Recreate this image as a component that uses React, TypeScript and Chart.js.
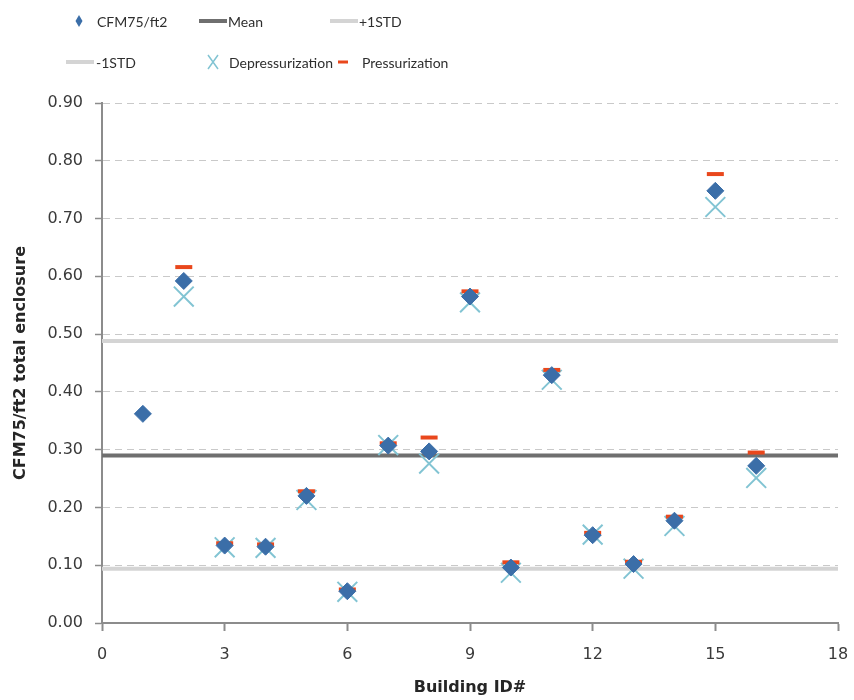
import React, { useEffect, useRef } from 'react';
import { Chart, registerables } from 'chart.js';

Chart.register(...registerables);

// ---- data ----
const buildingIds = [1, 2, 3, 4, 5, 6, 7, 8, 9, 10, 11, 12, 13, 14, 15, 16];
const cfmValues = [0.362, 0.592, 0.134, 0.132, 0.22, 0.055, 0.307, 0.297, 0.565, 0.096, 0.429, 0.152, 0.102, 0.177, 0.748, 0.272];
const depressValues = [null, 0.565, 0.131, 0.13, 0.213, 0.054, 0.308, 0.276, 0.555, 0.087, 0.421, 0.153, 0.094, 0.168, 0.72, 0.251];
const pressValues = [null, 0.616, 0.138, 0.136, 0.228, 0.058, 0.311, 0.321, 0.574, 0.105, 0.438, 0.156, 0.106, 0.184, 0.777, 0.295];
const lineXRange = [0, 18];
const meanValue = 0.29;
const plusStdValue = 0.488;
const minusStdValue = 0.094;
const xTickValues = [0, 3, 6, 9, 12, 15, 18];
const yTickValues = [0, 0.1, 0.2, 0.3, 0.4, 0.5, 0.6, 0.7, 0.8, 0.9];

const seriesLabels = ['CFM75/ft2', 'Mean', '+1STD', '-1STD', 'Depressurization', 'Pressurization'];

const toPoints = (vals: (number | null)[]) =>
  buildingIds
    .map((id, i) => ({ x: id, y: vals[i] }))
    .filter((p) => p.y !== null) as { x: number; y: number }[];

const hLine = (v: number) => lineXRange.map((x) => ({ x, y: v }));

const COLORS = {
  cfm: '#3b6ea8',
  mean: '#6f6f6f',
  std: '#d4d4d4',
  depress: '#82c4d3',
  press: '#e9471c',
};

// legend layout (position of each legend entry)
const legendLayout = [
  { index: 0, kind: 'diamond', mx: 79, tx: 97, y: 21 },
  { index: 1, kind: 'line', mx: 213, tx: 228, y: 21 },
  { index: 2, kind: 'line', mx: 344, tx: 359, y: 21 },
  { index: 3, kind: 'line', mx: 80, tx: 96, y: 62 },
  { index: 4, kind: 'cross', mx: 213, tx: 229, y: 62 },
  { index: 5, kind: 'dash', mx: 343, tx: 362, y: 62 },
];

const gridLegendPlugin = {
  id: 'gridLegend',
  afterDraw(chart: any) {
    const ctx: CanvasRenderingContext2D = chart.ctx;
    ctx.save();
    ctx.font = '14px Lato';
    ctx.textBaseline = 'middle';
    ctx.textAlign = 'left';
    for (const item of legendLayout) {
      const ds: any = chart.data.datasets[item.index];
      const { mx, y } = item;
      ctx.lineCap = 'butt';
      if (item.kind === 'line') {
        ctx.strokeStyle = ds.borderColor;
        ctx.lineWidth = ds.borderWidth;
        ctx.beginPath();
        ctx.moveTo(mx - 14, y);
        ctx.lineTo(mx + 14, y);
        ctx.stroke();
      } else if (item.kind === 'diamond') {
        ctx.fillStyle = ds.backgroundColor;
        ctx.beginPath();
        ctx.moveTo(mx, y - 6);
        ctx.lineTo(mx + 3.5, y);
        ctx.lineTo(mx, y + 6);
        ctx.lineTo(mx - 3.5, y);
        ctx.closePath();
        ctx.fill();
      } else if (item.kind === 'cross') {
        ctx.strokeStyle = ds.borderColor;
        ctx.lineWidth = 1.5;
        ctx.beginPath();
        ctx.moveTo(mx - 5, y - 7);
        ctx.lineTo(mx + 5, y + 7);
        ctx.moveTo(mx + 5, y - 7);
        ctx.lineTo(mx - 5, y + 7);
        ctx.stroke();
      } else if (item.kind === 'dash') {
        ctx.strokeStyle = ds.borderColor;
        ctx.lineWidth = 3;
        ctx.beginPath();
        ctx.moveTo(mx - 5, y);
        ctx.lineTo(mx + 5, y);
        ctx.stroke();
      }
      ctx.fillStyle = '#2e2e2e';
      ctx.fillText(ds.label, item.tx, y + 1);
    }
    ctx.restore();
  },
};

export default function App() {
  const canvasRef = useRef<HTMLCanvasElement | null>(null);

  useEffect(() => {
    document.body.style.margin = '0';
    const canvas = canvasRef.current;
    if (!canvas) return;

    const chart = new Chart(canvas, {
      type: 'scatter',
      data: {
        datasets: [
          {
            label: seriesLabels[0],
            data: toPoints(cfmValues),
            pointStyle: 'rectRot',
            pointRadius: 8.5,
            pointHoverRadius: 8.5,
            backgroundColor: COLORS.cfm,
            borderColor: COLORS.cfm,
            borderWidth: 1,
            order: 0,
          },
          {
            label: seriesLabels[1],
            data: hLine(meanValue),
            showLine: true,
            pointRadius: 0,
            borderColor: COLORS.mean,
            backgroundColor: COLORS.mean,
            borderWidth: 4,
            order: 5,
          },
          {
            label: seriesLabels[2],
            data: hLine(plusStdValue),
            showLine: true,
            pointRadius: 0,
            borderColor: COLORS.std,
            backgroundColor: COLORS.std,
            borderWidth: 4,
            order: 6,
          },
          {
            label: seriesLabels[3],
            data: hLine(minusStdValue),
            showLine: true,
            pointRadius: 0,
            borderColor: COLORS.std,
            backgroundColor: COLORS.std,
            borderWidth: 4,
            order: 7,
          },
          {
            label: seriesLabels[4],
            data: toPoints(depressValues),
            pointStyle: 'crossRot',
            pointRadius: 14,
            pointHoverRadius: 14,
            borderColor: COLORS.depress,
            backgroundColor: COLORS.depress,
            borderWidth: 2,
            order: 2,
          },
          {
            label: seriesLabels[5],
            data: toPoints(pressValues),
            pointStyle: 'line',
            pointRadius: 8.5,
            pointHoverRadius: 8.5,
            borderColor: COLORS.press,
            backgroundColor: COLORS.press,
            borderWidth: 4,
            order: 1,
          },
        ],
      },
      options: {
        responsive: true,
        maintainAspectRatio: false,
        animation: false,
        layout: { padding: { top: 103, right: 15, left: 0, bottom: 0 } },
        plugins: {
          legend: { display: false },
          tooltip: { enabled: false },
        },
        scales: {
          x: {
            type: 'linear',
            min: 0,
            max: 18,
            afterFit(scale: any) {
              scale.height = 77;
              scale.paddingRight = 0;
              scale.paddingLeft = 0;
            },
            afterBuildTicks(scale: any) {
              scale.ticks = xTickValues.map((v) => ({ value: v }));
            },
            ticks: {
              stepSize: 3,
              padding: 14,
              color: '#3a3a3a',
              font: { family: 'DejaVu Sans', size: 16 },
            },
            grid: {
              drawOnChartArea: false,
              drawTicks: true,
              tickLength: 8,
              tickColor: '#8c8c8c',
              tickWidth: 2,
            },
            border: { color: '#8c8c8c', width: 2 },
            title: {
              display: true,
              text: 'Building ID#',
              color: '#262626',
              font: { family: 'DejaVu Sans', size: 16, weight: 'bold' },
              padding: { top: 0, bottom: 3 },
            },
          },
          y: {
            type: 'linear',
            min: 0,
            max: 0.9,
            afterFit(scale: any) {
              scale.width = 102;
              scale.paddingTop = 0;
              scale.paddingBottom = 0;
            },
            afterBuildTicks(scale: any) {
              scale.ticks = yTickValues.map((v) => ({ value: v }));
            },
            ticks: {
              stepSize: 0.1,
              padding: 12,
              color: '#3a3a3a',
              font: { family: 'DejaVu Sans', size: 16 },
              callback: (v: any) => Number(v).toFixed(2),
            },
            grid: {
              color: (c: any) => (c.tick && c.tick.value === 0 ? 'rgba(0,0,0,0)' : '#c9c9c9'),
              lineWidth: 1,
              drawTicks: true,
              tickLength: 7,
              tickColor: '#8c8c8c',
              tickWidth: 1.5,
              tickBorderDash: [],
            },
            border: { color: '#8c8c8c', width: 2, dash: [7, 5] },
            title: {
              display: true,
              text: 'CFM75/ft2 total enclosure',
              color: '#262626',
              font: { family: 'DejaVu Sans', size: 16, weight: 'bold' },
              padding: { top: 11, bottom: 0 },
            },
          },
        },
      },
      plugins: [gridLegendPlugin],
    } as any);

    return () => chart.destroy();
  }, []);

  return (
    <div style={{ position: 'relative', width: 854, height: 700 }}>
      <canvas ref={canvasRef} />
    </div>
  );
}
